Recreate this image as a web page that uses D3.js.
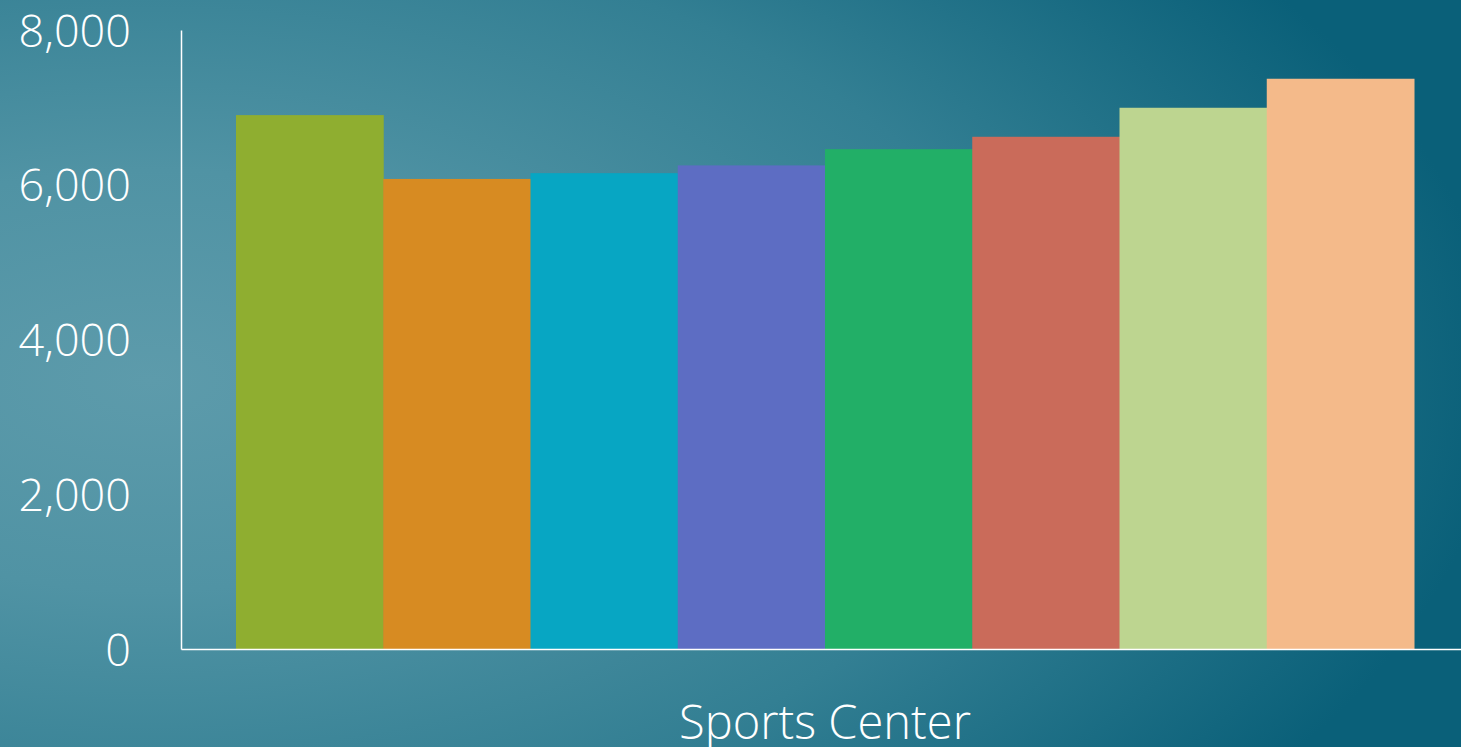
<!DOCTYPE html>
<meta charset="utf-8">
<style>
body { margin:0; overflow:hidden; }
text { font-family:"Open Sans", sans-serif; fill:white; font-weight:300; }
</style>
<script src="https://d3js.org/d3.v7.min.js"></script>
<div id="my_dataviz"></div>
<script>

// data
var categories = ["Sports Center"];
var series = ["S1", "S2", "S3", "S4", "S5", "S6", "S7", "S8"];
var values = [6900, 6075, 6150, 6250, 6460, 6620, 6995, 7370];
var colors = ["#8fae30", "#d78b22", "#07a6c3", "#5d6dc3", "#22af67", "#ca6b5a", "#bdd590", "#f4ba8a"];
var yTicks = [0, 2000, 4000, 6000, 8000];

var W = 1461, H = 747;
var margin = {top: 30, right: 0, bottom: 98, left: 181},
    width = W - margin.left - margin.right,
    height = H - margin.top - margin.bottom;

var svg = d3.select("#my_dataviz")
  .append("svg")
    .attr("width", W)
    .attr("height", H);

// background
var grad = svg.append("defs").append("radialGradient")
    .attr("id", "bg")
    .attr("gradientUnits", "userSpaceOnUse")
    .attr("cx", 150).attr("cy", 380).attr("r", 1350)
    .attr("gradientTransform", "translate(150,380) scale(1,0.52) translate(-150,-380)");
grad.append("stop").attr("offset", 0).attr("stop-color", "#5d9bab");
grad.append("stop").attr("offset", 0.3).attr("stop-color", "#5093a4");
grad.append("stop").attr("offset", 0.65).attr("stop-color", "#337f93");
grad.append("stop").attr("offset", 1).attr("stop-color", "#0a6079");
svg.append("rect").attr("width", W).attr("height", H).attr("fill", "url(#bg)");

var g = svg.append("g")
    .attr("transform", "translate(" + margin.left + "," + margin.top + ")");

// scales
var x0 = d3.scaleBand().domain(categories).range([0, width + 8]).padding(0.0446);
var x1 = d3.scaleBand().domain(series).range([0, x0.bandwidth()]).padding(0);
var y = d3.scaleLinear().domain([0, 8000]).range([height, 0]);

// bars
g.selectAll(".grp")
  .data(categories)
  .enter().append("g")
    .attr("transform", function(d) { return "translate(" + x0(d) + ",0)"; })
  .selectAll("rect")
  .data(series.map(function(s, i) { return {s: s, v: values[i], c: colors[i]}; }))
  .enter().append("rect")
    .attr("x", function(d) { return x1(d.s); })
    .attr("y", function(d) { return y(d.v); })
    .attr("width", x1.bandwidth() + 0.5)
    .attr("height", function(d) { return height - y(d.v); })
    .attr("fill", function(d) { return d.c; });

// Y axis
var yAxis = g.append("g")
  .call(d3.axisLeft(y).tickValues(yTicks).tickSize(0).tickPadding(50).tickFormat(d3.format(",")));
yAxis.select(".domain").attr("stroke", "white").attr("stroke-width", 1.5);
yAxis.selectAll("text").attr("font-size", 45).attr("dy", "0.36em").style("font-family", null);

// X axis
var xAxis = g.append("g")
  .attr("transform", "translate(0," + height + ")")
  .call(d3.axisBottom(x0).tickSize(0).tickPadding(57));
xAxis.select(".domain").attr("stroke", "white").attr("stroke-width", 1.5);
xAxis.selectAll("text").attr("font-size", 47).style("font-family", null);
svg.selectAll(".tick text").attr("fill", "white");

</script>
